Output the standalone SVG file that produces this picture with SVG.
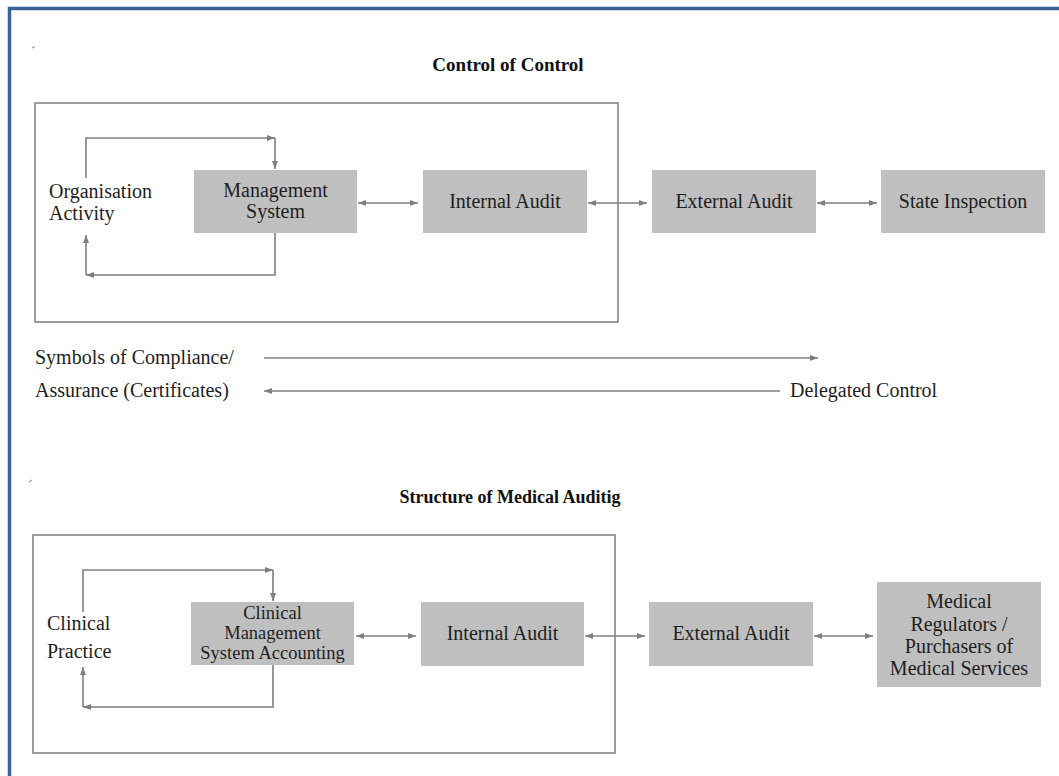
<svg xmlns="http://www.w3.org/2000/svg" width="1059" height="776" viewBox="0 0 1059 776">
  <style>
    .frame { fill: none; stroke: #3b6296; stroke-width: 3.5; }
    .panel { fill: none; stroke: #858585; stroke-width: 1.6; }
    .box { fill: #bfbfbf; stroke: none; }
    .conn { fill: none; stroke: #7f7f7f; stroke-width: 1.6; }
    .txt { font-family: "Liberation Serif", "Times New Roman", serif; font-size: 20px; fill: #1e1e1e; }
    .sm { font-size: 18.5px; }
    .title { font-family: "Liberation Serif", "Times New Roman", serif; font-size: 19px; font-weight: bold; fill: #111; }
    .mid { text-anchor: middle; }
  </style>
  <defs>
    <marker id="ah" viewBox="0 0 8 6" refX="8" refY="3" markerWidth="8" markerHeight="6" markerUnits="userSpaceOnUse" orient="auto-start-reverse">
      <path d="M0,0 L8,3 L0,6 z" fill="#7f7f7f"/>
    </marker>
  </defs>

  <rect width="1059" height="776" fill="#ffffff"/>

  <!-- page frame: top and left rules only -->
  <path class="frame" d="M9.5,776 V8.5 H1059"/>

  <!-- stray marks -->
  <path d="M32,48 L35,46.5" stroke="#9a9a9a" stroke-width="1.2" fill="none"/>
  <path d="M29,482 L32,480" stroke="#9a9a9a" stroke-width="1.2" fill="none"/>

  <!-- ===== Section 1: Control of Control ===== -->
  <text class="title mid" x="508" y="71">Control of Control</text>
  <rect class="panel" x="35" y="103" width="583" height="219"/>

  <g id="org-activity">
    <text class="txt" x="49" y="198">Organisation</text>
    <text class="txt" x="49" y="220">Activity</text>
  </g>
  <g id="management-system">
    <rect class="box" x="194" y="170" width="163" height="63"/>
    <text class="txt mid" x="275.5" y="197">Management</text>
    <text class="txt mid" x="275.5" y="218">System</text>
  </g>
  <g id="internal-audit-1">
    <rect class="box" x="423" y="170" width="164" height="63"/>
    <text class="txt mid" x="505" y="208">Internal Audit</text>
  </g>
  <g id="external-audit-1">
    <rect class="box" x="652" y="170" width="164" height="63"/>
    <text class="txt mid" x="734" y="208">External Audit</text>
  </g>
  <g id="state-inspection">
    <rect class="box" x="881" y="170" width="164" height="63"/>
    <text class="txt mid" x="963" y="208">State Inspection</text>
  </g>

  <!-- ===== Middle legend ===== -->
  <g id="legend-left">
    <text class="txt" x="35" y="364">Symbols of Compliance/</text>
    <text class="txt" x="35" y="397">Assurance (Certificates)</text>
  </g>
  <g id="legend-right">
    <text class="txt" x="790" y="397">Delegated Control</text>
  </g>

  <!-- ===== Section 2: Structure of Medical Auditig ===== -->
  <text class="title mid" x="510" y="503" style="font-size:18px">Structure of Medical Auditig</text>
  <rect class="panel" x="33" y="535" width="582" height="218"/>

  <g id="clinical-practice">
    <text class="txt" x="47" y="630">Clinical</text>
    <text class="txt" x="47" y="658">Practice</text>
  </g>
  <g id="clinical-management">
    <rect class="box" x="191" y="602" width="163" height="63"/>
    <text class="txt sm mid" x="272.5" y="619">Clinical</text>
    <text class="txt sm mid" x="272.5" y="639">Management</text>
    <text class="txt sm mid" x="272.5" y="659">System Accounting</text>
  </g>
  <g id="internal-audit-2">
    <rect class="box" x="421" y="602" width="163" height="64"/>
    <text class="txt mid" x="502.5" y="640">Internal Audit</text>
  </g>
  <g id="external-audit-2">
    <rect class="box" x="649" y="602" width="164" height="64"/>
    <text class="txt mid" x="731" y="640">External Audit</text>
  </g>
  <g id="medical-regulators">
    <rect class="box" x="877" y="582" width="164" height="105"/>
    <text class="txt mid" x="959" y="608">Medical</text>
    <text class="txt mid" x="959" y="631">Regulators /</text>
    <text class="txt mid" x="959" y="653">Purchasers of</text>
    <text class="txt mid" x="959" y="675">Medical Services</text>
  </g>

  <!-- ===== Connectors ===== -->
  <g id="connectors">
    <!-- section 1 feedback loop -->
    <path class="conn" d="M86,178 V138 H275" marker-end="url(#ah)"/>
    <path class="conn" d="M275,138 V169" marker-end="url(#ah)"/>
    <path class="conn" d="M275,233 V275 H86" marker-end="url(#ah)"/>
    <path class="conn" d="M86,275 V235" marker-end="url(#ah)"/>
    <!-- section 1 chain -->
    <path class="conn" d="M358,203 H418" marker-start="url(#ah)" marker-end="url(#ah)"/>
    <path class="conn" d="M588,203 H647" marker-start="url(#ah)" marker-end="url(#ah)"/>
    <path class="conn" d="M817,203 H877" marker-start="url(#ah)" marker-end="url(#ah)"/>

    <!-- legend arrows -->
    <path class="conn" d="M264,358 H818" marker-end="url(#ah)"/>
    <path class="conn" d="M780,391 H264" marker-end="url(#ah)"/>

    <!-- section 2 feedback loop -->
    <path class="conn" d="M83,612 V570 H273" marker-end="url(#ah)"/>
    <path class="conn" d="M273,570 V601" marker-end="url(#ah)"/>
    <path class="conn" d="M273,665 V707 H83" marker-end="url(#ah)"/>
    <path class="conn" d="M83,707 V667" marker-end="url(#ah)"/>
    <!-- section 2 chain -->
    <path class="conn" d="M356,636 H416" marker-start="url(#ah)" marker-end="url(#ah)"/>
    <path class="conn" d="M585,636 H645" marker-start="url(#ah)" marker-end="url(#ah)"/>
    <path class="conn" d="M814,636 H873" marker-start="url(#ah)" marker-end="url(#ah)"/>
  </g>
</svg>
